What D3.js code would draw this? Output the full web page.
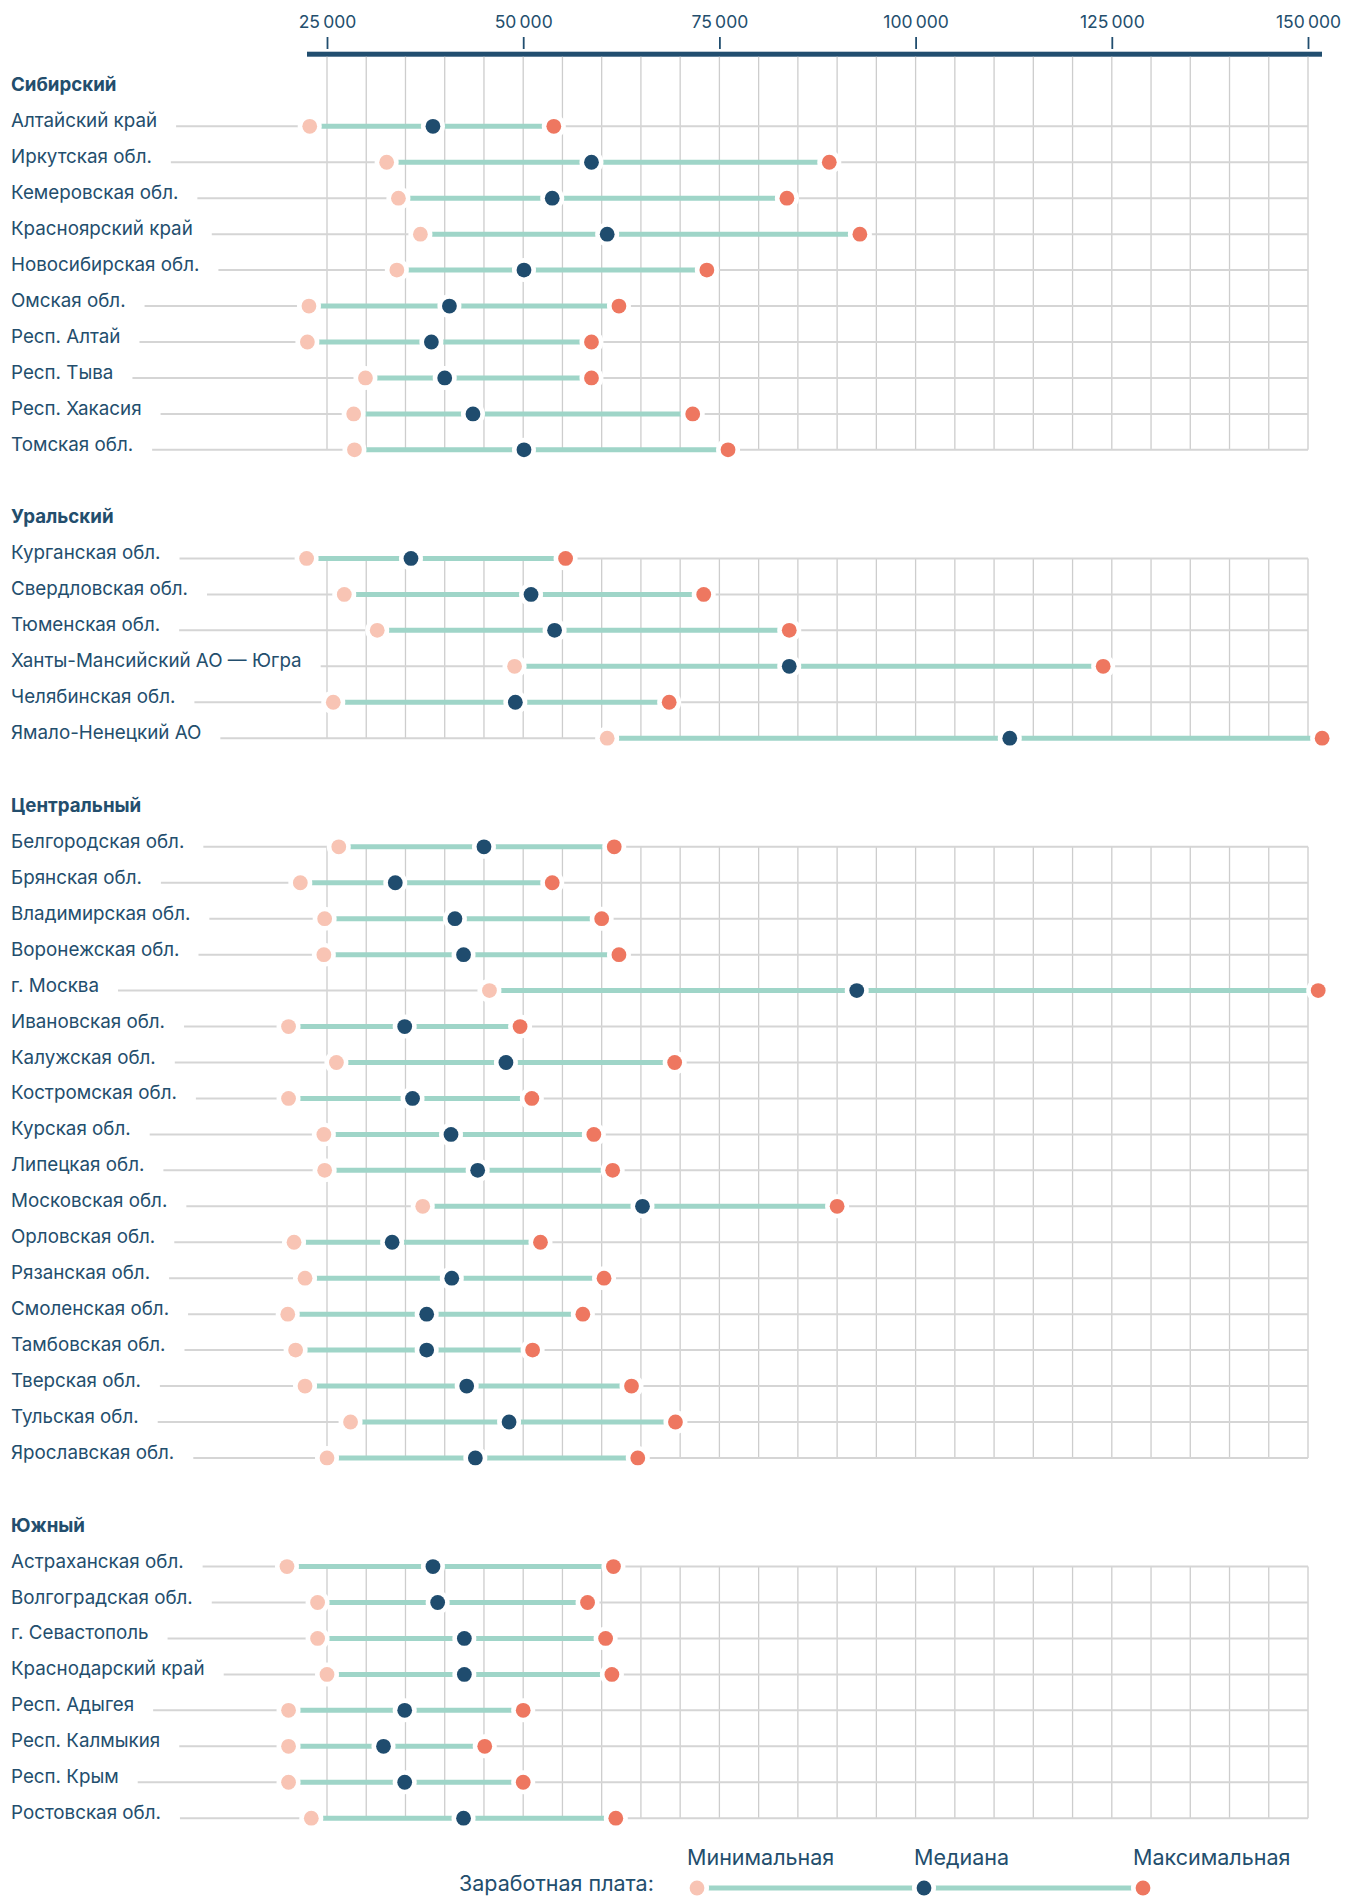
<!DOCTYPE html>
<html><head><meta charset="utf-8">
<script src="https://cdn.jsdelivr.net/npm/d3@7"></script>
<style>
body{margin:0;background:#fff;}
svg text{font-family:Inter,"Noto Sans",sans-serif;}
</style></head><body>
<svg id="chart" width="1347" height="1897"></svg>
<script>
// ---- data ----
const tickValues = [25000, 50000, 75000, 100000, 125000, 150000];
const groups = ["Сибирский", "Уральский", "Центральный", "Южный"];

const sibRegions = ["Алтайский край","Иркутская обл.","Кемеровская обл.","Красноярский край","Новосибирская обл.","Омская обл.","Респ. Алтай","Респ. Тыва","Респ. Хакасия","Томская обл."];
const sibMin = [22800, 32600, 34100, 36900, 33900, 22700, 22500, 29900, 28400, 28500];
const sibMed = [38500, 58700, 53700, 60700, 50100, 40600, 38300, 40000, 43600, 50100];
const sibMax = [53900, 89000, 83600, 92900, 73400, 62200, 58700, 58700, 71600, 76100];

const uralRegions = ["Курганская обл.","Свердловская обл.","Тюменская обл.","Ханты-Мансийский АО — Югра","Челябинская обл.","Ямало-Ненецкий АО"];
const uralMin = [22400, 27200, 31400, 48900, 25800, 60700];
const uralMed = [35700, 51000, 54000, 83900, 49000, 112000];
const uralMax = [55400, 73000, 83900, 123900, 68600, 151800];

const centRegions = ["Белгородская обл.","Брянская обл.","Владимирская обл.","Воронежская обл.","г. Москва","Ивановская обл.","Калужская обл.","Костромская обл.","Курская обл.","Липецкая обл.","Московская обл.","Орловская обл.","Рязанская обл.","Смоленская обл.","Тамбовская обл.","Тверская обл.","Тульская обл.","Ярославская обл."];
const centMin = [26500, 21600, 24700, 24600, 45700, 20100, 26200, 20100, 24600, 24700, 37200, 20800, 22200, 20000, 21000, 22200, 28000, 25000];
const centMed = [45000, 33700, 41300, 42400, 92500, 34900, 47800, 35900, 40800, 44200, 65200, 33300, 40900, 37700, 37700, 42800, 48200, 43900];
const centMax = [61600, 53700, 60000, 62200, 151300, 49600, 69300, 51100, 59000, 61400, 90000, 52200, 60300, 57600, 51200, 63800, 69400, 64600];

const southRegions = ["Астраханская обл.","Волгоградская обл.","г. Севастополь","Краснодарский край","Респ. Адыгея","Респ. Калмыкия","Респ. Крым","Ростовская обл."];
const southMin = [19900, 23800, 23800, 25000, 20100, 20100, 20100, 23000];
const southMed = [38500, 39100, 42500, 42500, 34900, 32200, 34900, 42400];
const southMax = [61500, 58200, 60500, 61300, 50000, 45100, 50000, 61800];

const legendTitle = "Заработная плата:";
const legendLabels = ["Минимальная", "Медиана", "Максимальная"];

// ---- drawing ----
const C = {text:"#234e6d", axis:"#214e6f", grid:"#cdcdcd", row:"#d5d5d5", bar:"#9fd5c8",
           min:"#f8c4b4", med:"#1f4c6e", max:"#ee7760"};
const svg = d3.select("#chart");
const x = d3.scaleLinear().domain([25000, 150000]).range([327, 1308]);
const fmt = d3.formatLocale({decimal:",", thousands:"\u2009", grouping:[3], currency:["",""]}).format(",d");

// top axis
const axisG = svg.append("g").attr("transform", "translate(0,49)")
  .call(d3.axisTop(x).tickValues(tickValues).tickFormat(fmt).tickSize(12).tickPadding(9));
axisG.select(".domain").remove();
axisG.selectAll(".tick line").attr("stroke", C.axis).attr("stroke-width", 1.8);
axisG.selectAll(".tick text").attr("fill", C.text).style("font-size", "17.5px").style("font-family", "Inter");
svg.append("rect").attr("x", x.range()[0] - 20).attr("y", 51.7)
  .attr("width", x.range()[1] - x.range()[0] + 34).attr("height", 5).attr("fill", C.axis);

const sections = [
  {name: groups[0], regions: sibRegions, min: sibMin, med: sibMed, max: sibMax},
  {name: groups[1], regions: uralRegions, min: uralMin, med: uralMed, max: uralMax},
  {name: groups[2], regions: centRegions, min: centMin, med: centMed, max: centMax},
  {name: groups[3], regions: southRegions, min: southMin, med: southMed, max: southMax}
];
const step = 35.95, gap = 108.6, labelX = 11, fs = 18.8;
const gridVals = d3.range(25000, 150001, 5000);
let firstY = 126.3;

sections.forEach((s, si) => {
  const n = s.regions.length;
  const y = d3.scalePoint().domain(s.regions).range([firstY, firstY + (n - 1) * step]);
  const g = svg.append("g");
  const rows = s.regions.map((r, i) => ({r, min: s.min[i], med: s.med[i], max: s.max[i]}));

  g.append("text").attr("x", labelX).attr("y", firstY - 35).text(s.name)
    .attr("fill", C.text).attr("font-weight", 700).style("font-size", "18.7px");

  const gridTop = si === 0 ? 56.7 : firstY;
  g.selectAll("line.v").data(gridVals).join("line").attr("class", "v")
    .attr("x1", d => x(d)).attr("x2", d => x(d))
    .attr("y1", gridTop).attr("y2", y(s.regions[n - 1]))
    .attr("stroke", C.grid).attr("stroke-width", 1.3);

  const lab = g.selectAll("text.lab").data(rows).join("text").attr("class", "lab")
    .attr("x", labelX).attr("y", d => y(d.r) + 1).text(d => d.r)
    .attr("fill", C.text).style("font-size", fs + "px");
  lab.each(function(d) { d.w = this.getComputedTextLength(); });

  g.selectAll("line.h").data(rows).join("line").attr("class", "h")
    .attr("x1", d => labelX + d.w + 19).attr("x2", x(150000))
    .attr("y1", d => y(d.r)).attr("y2", d => y(d.r))
    .attr("stroke", C.row).attr("stroke-width", 2);

  g.selectAll("line.bar").data(rows).join("line").attr("class", "bar")
    .attr("x1", d => x(d.min)).attr("x2", d => x(d.max))
    .attr("y1", d => y(d.r)).attr("y2", d => y(d.r))
    .attr("stroke", C.bar).attr("stroke-width", 5);

  const pts = [];
  rows.forEach(d => { pts.push({r: d.r, v: d.min, c: C.min}); pts.push({r: d.r, v: d.med, c: C.med}); pts.push({r: d.r, v: d.max, c: C.max}); });
  g.selectAll("circle.halo").data(pts).join("circle").attr("class", "halo")
    .attr("cx", d => x(d.v)).attr("cy", d => y(d.r)).attr("r", 12).attr("fill", "#fff");
  g.selectAll("circle.dot").data(pts).join("circle").attr("class", "dot")
    .attr("cx", d => x(d.v)).attr("cy", d => y(d.r)).attr("r", 7.4).attr("fill", d => d.c);

  firstY += (n - 1) * step + gap;
});

// legend
const lg = svg.append("g");
const ly = 1888;
const lx = [697, 924, 1143];
const lfs = 21.5;
lg.append("text").attr("x", 459).attr("y", ly + 3).text(legendTitle)
  .attr("fill", C.text).style("font-size", lfs + "px");
lg.append("line").attr("x1", lx[0]).attr("x2", lx[2]).attr("y1", ly).attr("y2", ly)
  .attr("stroke", C.bar).attr("stroke-width", 5);
const lc = [C.min, C.med, C.max];
lg.selectAll("circle.halo").data(lx).join("circle").attr("class", "halo")
  .attr("cx", d => d).attr("cy", ly).attr("r", 12).attr("fill", "#fff");
lg.selectAll("circle.dot").data(lx).join("circle").attr("class", "dot")
  .attr("cx", d => d).attr("cy", ly).attr("r", 7.4).attr("fill", (d, i) => lc[i]);
lg.selectAll("text.ll").data(legendLabels).join("text").attr("class", "ll")
  .attr("x", (d, i) => lx[i] - 10).attr("y", 1865).text(d => d)
  .attr("fill", C.text).style("font-size", lfs + "px");
</script>
</body></html>
